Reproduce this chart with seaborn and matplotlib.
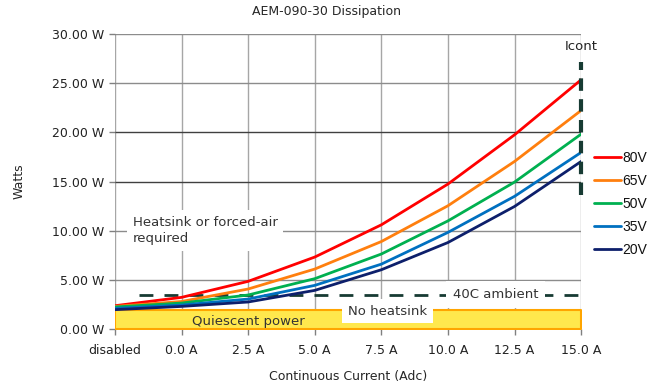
"""AEM-090-30 dissipation chart"""

import matplotlib
matplotlib.use('Agg')
import matplotlib.pyplot as plt
import pandas as pd
import seaborn as sns

# data
currents = ['disabled', '0.0 A', '2.5 A', '5.0 A', '7.5 A', '10.0 A', '12.5 A', '15.0 A']
voltages = ['80V', '65V', '50V', '35V', '20V']
watts_80v = [2.37, 3.22, 4.85, 7.32, 10.6, 14.75, 19.76, 25.36]
watts_65v = [2.30, 2.80, 4.07, 6.10, 8.90, 12.54, 17.05, 22.24]
watts_50v = [2.24, 2.64, 3.46, 5.12, 7.63, 11.00, 14.95, 19.83]
watts_35v = [2.10, 2.44, 3.05, 4.44, 6.60, 9.83, 13.50, 17.97]
watts_20v = [1.97, 2.30, 2.75, 3.93, 6.03, 8.80, 12.47, 17.05]
quiescent_w = 1.9
ambient_w = 3.46
icont_range = [13.6, 27.2]
y_ticks = [0, 5, 10, 15, 20, 25, 30]

colors = ['#ff0000', '#ff7f0e', '#00b050', '#0070c0', '#0d1f6b']

rows = []
for v, vals in zip(voltages, [watts_80v, watts_65v, watts_50v, watts_35v, watts_20v]):
    for i, w in enumerate(vals):
        rows.append({'pos': i, 'watts': w, 'volt': v})
df = pd.DataFrame(rows)

sns.set_style('white')
plt.rcParams['font.family'] = ['DejaVu Sans']

fig = plt.figure(figsize=(6.68, 3.88), dpi=100)
ax = fig.add_axes([0.172, 0.152, 0.698, 0.760])

# grid
for i in range(len(currents)):
    ax.axvline(i, color='#a6a6a6', lw=1, zorder=0)
for t in y_ticks:
    c = '#404040' if t in (15, 20) else '#8c8c8c'
    ax.axhline(t, color=c, lw=1, zorder=0)

# quiescent band
ax.fill_between([0, len(currents) - 1], 0, quiescent_w, color='#ffe84d',
                edgecolor='#ffa500', lw=1.5, zorder=1)

# 40C ambient
ax.plot([0.36, 7.02], [ambient_w, ambient_w], color='#173b33', lw=2,
        dashes=(5, 4), zorder=2, clip_on=False)

sns.lineplot(data=df, x='pos', y='watts', hue='volt', hue_order=voltages,
             palette=colors, lw=2, ax=ax, zorder=3)

# Icont
ax.plot([7, 7], icont_range, color='#173b33', lw=3, dashes=(3, 2), zorder=4,
        clip_on=False)
ax.text(7, 28.7, 'Icont', ha='center', va='center', fontsize=9.5, color='#222222')

ax.text(0.27, 10.0, 'Heatsink or forced-air\nrequired', ha='left', va='center',
        fontsize=9.5, color='#333333', linespacing=1.35, zorder=5,
        bbox=dict(facecolor='white', edgecolor='none', pad=4))
ax.text(3.5, 1.8, 'No heatsink', ha='left', va='center', fontsize=9.5,
        color='#333333', bbox=dict(facecolor='white', edgecolor='none', pad=4), zorder=5)
ax.text(5.07, 3.55, '40C ambient', ha='left', va='center', fontsize=9.5,
        color='#333333', bbox=dict(facecolor='white', edgecolor='none', pad=5), zorder=5)
ax.text(1.16, 0.75, 'Quiescent power', ha='left', va='center', fontsize=9.5,
        color='#333333', zorder=5)

ax.set_xlim(0, len(currents) - 1)
ax.set_ylim(0, 30)
ax.set_xticks(range(len(currents)))
ax.set_xticklabels(currents, fontsize=9)
ax.set_yticks(y_ticks)
ax.set_yticklabels([f'{t:.2f} W' for t in y_ticks], fontsize=9)
ax.tick_params(axis='both', length=4, width=1, direction='out',
               bottom=True, left=True, color='#808080', labelcolor='#222222')
ax.tick_params(axis='x', pad=7)
for s in ax.spines.values():
    s.set_visible(False)
ax.set_xlabel('Continuous Current (Adc)', fontsize=9, labelpad=9)
ax.set_ylabel('Watts', fontsize=9, labelpad=19)
fig.text(326 / 668, 1 - 12 / 388, 'AEM-090-30 Dissipation', ha='center',
         va='center', fontsize=9)

leg = ax.legend(loc='center left', bbox_to_anchor=(1.0, 0.424), frameon=False,
                prop={'family': 'Liberation Sans', 'size': 10},
                handlelength=2.0, handletextpad=0.05, labelspacing=0.65)
for t in leg.get_texts():
    t.set_color('#111111')

fig.savefig('out.png', dpi=100)
